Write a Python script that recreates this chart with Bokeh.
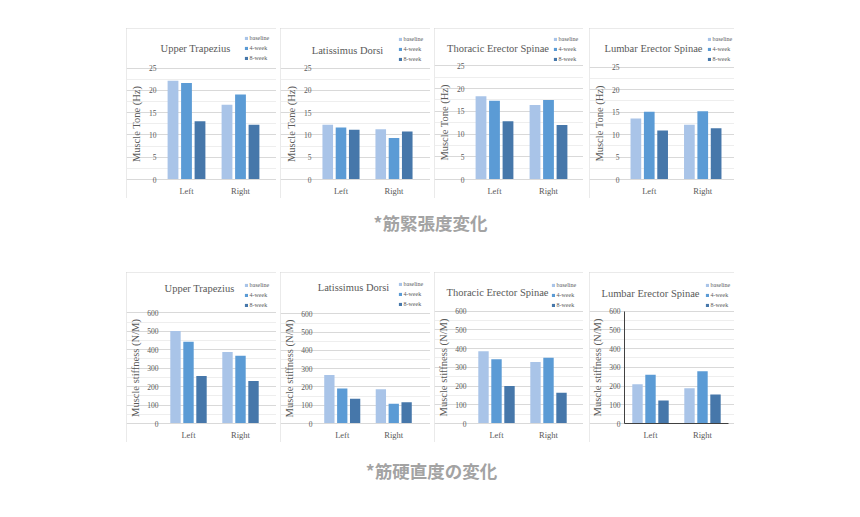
from bokeh.plotting import figure
from bokeh.models import (Range1d, FixedTicker, Label, Legend,
                          LegendItem, ColumnDataSource, Spacer)
from bokeh.layouts import row, column
from bokeh.transform import dodge
from bokeh.embed import file_html
from bokeh.resources import INLINE

# ---------------- data ----------------
sides = ["Left", "Right"]
series = ["baseline", "4-week", "8-week"]
colors = ["#A9C4E8", "#5B9BD5", "#4677AA"]
muscles = ["Upper Trapezius", "Latissimus Dorsi", "Thoracic Erector Spinae", "Lumbar Erector Spinae"]

tone_ticks = [0, 5, 10, 15, 20, 25]
stiff_ticks = [0, 100, 200, 300, 400, 500, 600]
tone_label = "Muscle Tone (Hz)"
stiff_label = "Muscle stiffness (N/M)"
caption_tone = "*筋緊張度変化"
caption_stiff = "*筋硬直度の変化"

# Muscle tone (Hz): [baseline, 4-week, 8-week], each [Left, Right]
tone_upper_trapezius = [[22.2, 16.8], [21.7, 19.1], [13.1, 12.3]]
tone_latissimus_dorsi = [[12.3, 11.3], [11.7, 9.3], [11.2, 10.8]]
tone_thoracic_es = [[18.3, 16.4], [17.3, 17.5], [12.8, 12.0]]
tone_lumbar_es = [[13.6, 12.2], [15.1, 15.2], [10.9, 11.4]]

# Muscle stiffness (N/M)
stiff_upper_trapezius = [[501, 387], [443, 367], [257, 231]]
stiff_latissimus_dorsi = [[265, 188], [192, 108], [135, 117]]
stiff_thoracic_es = [[386, 329], [343, 351], [201, 164]]
stiff_lumbar_es = [[210, 189], [260, 279], [123, 155]]

# ---------------- styling ----------------
SERIF = "Liberation Serif"
TXT = "#595959"
GRID = "#d9d9d9"
PANEL_H = 170
BOTTOM = 19


def panel(title, vals, ticks, ylabel, width, mbl, mbr, span, tpos, lpos,
          dark_axes=False, lab_standoff=3, ylab_standoff=4, spacing=4):
    n = len(sides)
    u = (width - mbl - mbr) / n           # pixels per category
    top = ticks[-1]
    ppu = span / top                       # pixels per value unit
    p = figure(width=width, height=PANEL_H,
               x_range=Range1d(-mbl / u, (width - mbl) / u),
               y_range=Range1d(-BOTTOM / ppu, (PANEL_H - BOTTOM) / ppu),
               toolbar_location=None, output_backend="svg", min_border=0)
    p.styles = {"outline": "1px solid #d4d4d4", "outline-offset": "-1px"}
    p.outline_line_color = None
    p.background_fill_color = "white"
    p.border_fill_color = "white"

    xpos = [i + 0.5 for i in range(n)]
    data = {"x": xpos}
    for s, v in zip(series, vals):
        data[s] = v
    src = ColumnDataSource(data)
    offsets = [-0.25, 0.0, 0.25]
    rends = []
    for s, c, off in zip(series, colors, offsets):
        r = p.vbar(x=dodge("x", off), top=s, width=0.2,
                   source=src, fill_color=c, line_color=None)
        rends.append(r)

    step = ticks[1] - ticks[0]
    minor = [t + step / 2 for t in ticks[:-1]]
    p.yaxis.ticker = FixedTicker(ticks=ticks, minor_ticks=minor)
    p.ygrid.grid_line_color = GRID
    p.ygrid.minor_grid_line_color = "#eeeeee"
    p.ygrid.bounds = (0, n)
    p.xgrid.grid_line_color = None

    p.yaxis.fixed_location = 0
    p.yaxis.bounds = (0, top)
    p.yaxis.axis_line_color = "#404040" if dark_axes else None
    p.yaxis.major_tick_line_color = None
    p.yaxis.minor_tick_line_color = None
    p.yaxis.major_tick_out = 0
    p.yaxis.major_tick_in = 0
    p.yaxis.minor_tick_out = 0
    p.yaxis.minor_tick_in = 0
    p.yaxis.major_label_text_font = SERIF
    p.yaxis.major_label_text_font_size = "7.5px"
    p.yaxis.major_label_text_color = TXT
    p.yaxis.major_label_standoff = lab_standoff
    p.yaxis.axis_label = ylabel
    p.yaxis.axis_label_text_font = SERIF
    p.yaxis.axis_label_text_font_style = "normal"
    p.yaxis.axis_label_text_font_size = "10.5px"
    p.yaxis.axis_label_text_color = TXT
    p.yaxis.axis_label_standoff = ylab_standoff

    p.xaxis.fixed_location = 0
    p.xaxis.bounds = (0, n)
    p.xaxis.ticker = FixedTicker(ticks=xpos, minor_ticks=[])
    p.xaxis.major_label_overrides = {x: s for x, s in zip(xpos, sides)}
    p.xaxis.axis_line_color = "#404040" if dark_axes else GRID
    p.xaxis.major_tick_line_color = None
    p.xaxis.minor_tick_line_color = None
    p.xaxis.major_tick_out = 0
    p.xaxis.major_tick_in = 0
    p.xaxis.minor_tick_out = 0
    p.xaxis.minor_tick_in = 0
    p.xaxis.major_label_text_font = SERIF
    p.xaxis.major_label_text_font_size = "8.5px"
    p.xaxis.major_label_text_color = TXT
    p.xaxis.major_label_standoff = 6

    tx, ty = tpos
    p.add_layout(Label(x=tx, y=PANEL_H - ty, x_units="screen", y_units="screen",
                       text=title, text_align="center", text_baseline="middle",
                       text_font=SERIF, text_font_size="10.5px", text_color=TXT))

    lx, ly = lpos
    items = [LegendItem(label=s, renderers=[r]) for s, r in zip(series, rends)]
    row_h = 6.5
    bottom_from_top = ly + 2 * (row_h + spacing) + row_h / 2
    leg = Legend(items=items, location=(lx - 0.5, PANEL_H - bottom_from_top),
                 label_text_font=SERIF, label_text_font_size="6px",
                 label_text_color=TXT, glyph_width=4, glyph_height=4,
                 label_height=6, label_standoff=2, spacing=spacing, padding=0,
                 margin=0, border_line_color=None, background_fill_alpha=0)
    p.add_layout(leg)
    return p


def caption(text, h, cy, cx):
    c = figure(width=844, height=h, x_range=Range1d(0, 844), y_range=Range1d(0, h),
               toolbar_location=None, output_backend="svg", min_border=0)
    c.axis.visible = False
    c.grid.visible = False
    c.outline_line_color = None
    c.add_layout(Label(x=cx, y=h - cy, text=text, text_align="center",
                       text_baseline="middle", text_font="Noto Sans CJK JP",
                       text_font_style="bold", text_font_size="17.5px",
                       text_color="#a3a3a3"))
    return c


t1 = panel(muscles[0], tone_upper_trapezius, tone_ticks, tone_label, 150, 33, 9, 111.3, (69, 20.3), (118, 8.7))
t2 = panel(muscles[1], tone_latissimus_dorsi, tone_ticks, tone_label, 150, 34, 10, 111.3, (67, 22), (118, 9.7))
t3 = panel(muscles[2], tone_thoracic_es, tone_ticks, tone_label, 149, 33, 8, 113.7, (63.5, 19.7), (119, 9.7))
t4 = panel(muscles[3], tone_lumbar_es, tone_ticks, tone_label, 145, 33, 5, 112.3, (64, 20.3), (118, 9.7))

s1 = panel(muscles[0], stiff_upper_trapezius, stiff_ticks, stiff_label, 150, 36, 10, 110.7, (73, 16), (118, 11.3), lab_standoff=4, ylab_standoff=3)
s2 = panel(muscles[1], stiff_latissimus_dorsi, stiff_ticks, stiff_label, 150, 36, 11, 109.6, (73, 15), (118, 11), lab_standoff=4, ylab_standoff=3)
s3 = panel(muscles[2], stiff_thoracic_es, stiff_ticks, stiff_label, 149, 36, 9, 112.3, (63, 20), (117, 11.3), lab_standoff=4, ylab_standoff=3)
s4 = panel(muscles[3], stiff_lumbar_es, stiff_ticks, stiff_label, 145, 35, 6, 112.3, (61, 20.7), (116, 12), dark_axes=True, lab_standoff=4, ylab_standoff=3)

row1 = row(Spacer(width=126, height=PANEL_H), t1, Spacer(width=4, height=PANEL_H), t2,
           Spacer(width=4, height=PANEL_H), t3, Spacer(width=6, height=PANEL_H), t4)
row2 = row(Spacer(width=126, height=PANEL_H), s1, Spacer(width=4, height=PANEL_H), s2,
           Spacer(width=4, height=PANEL_H), s3, Spacer(width=6, height=PANEL_H), s4)

c1 = caption(caption_tone, 74, 24, 430)
c2 = caption(caption_stiff, 67, 28, 431)

layout = column(Spacer(width=852, height=28), row1, c1, row2, c2)

open("out.html", "w").write(file_html(layout, INLINE))
